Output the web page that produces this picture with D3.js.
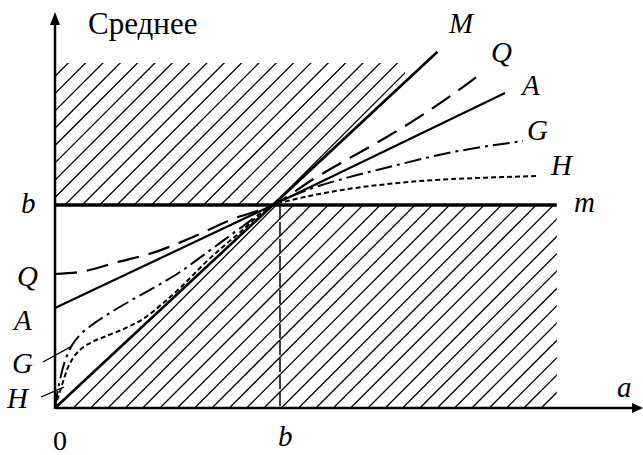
<!DOCTYPE html>
<html>
<head>
<meta charset="utf-8">
<script src="https://cdn.jsdelivr.net/npm/d3@7"></script>
<style>
  body { margin: 0; background: #fff; }
</style>
</head>
<body>
<div id="chart"></div>
<script>
// Values in units of b: [a, mean]
const diagLine = [[0, 0], [1.70, 1.755]];          // min for a<b, max for a>b
const levelLine = [[0, 1], [2.23, 1]];             // max for a<b, min for a>b
const qMean = [[0, 0.660], [0.111, 0.670], [0.280, 0.719], [0.444, 0.768], [0.609, 0.840],
  [0.787, 0.930], [0.969, 1.0], [1.156, 1.133], [1.311, 1.232], [1.467, 1.330],
  [1.613, 1.429], [1.764, 1.542], [1.902, 1.655]];
const aMean = [[0, 0.493], [0.969, 1.0], [2.0, 1.552]];
const gMean = [[0, 0], [0.009, 0.064], [0.027, 0.163], [0.049, 0.246], [0.076, 0.310],
  [0.111, 0.360], [0.164, 0.409], [0.244, 0.468], [0.333, 0.527], [0.444, 0.596],
  [0.556, 0.670], [0.667, 0.759], [0.822, 0.885], [0.969, 1.0], [1.124, 1.075],
  [1.30, 1.135], [1.467, 1.182], [1.747, 1.256], [2.08, 1.315]];
const hMean = [[0, 0], [0.013, 0.049], [0.031, 0.113], [0.053, 0.187], [0.080, 0.246],
  [0.111, 0.286], [0.156, 0.320], [0.222, 0.352], [0.311, 0.392], [0.400, 0.445],
  [0.489, 0.525], [0.578, 0.615], [0.667, 0.715], [0.822, 0.865], [0.969, 1.0],
  [1.053, 1.025], [1.276, 1.074], [1.569, 1.113], [2.0, 1.138], [2.147, 1.143]];
const bTick = 1;
const topLimit = 1.70;
const upperRightA = 1.556;
const lowerRightA = 2.23;

const width = 643, height = 455;
const serif = "'Liberation Serif', 'DejaVu Serif', 'Times New Roman', serif";

const svg = d3.select("#chart")
  .append("svg")
  .attr("width", width)
  .attr("height", height);

// Scales (a in units of b)
const x = d3.scaleLinear().domain([0, 1]).range([55, 280]);
const y = d3.scaleLinear().domain([0, 1]).range([408, 205]);

const cross = aMean[1];
const diagAt = a => diagLine[1][1] / diagLine[1][0] * a;

// Hatched regions
const upperRegion = [[0, 1], [0, topLimit], [upperRightA, topLimit],
  [upperRightA, diagAt(upperRightA)], [cross[0], cross[1]]];
const lowerRegion = [[0, 0], [cross[0], cross[1]], [lowerRightA, 1], [lowerRightA, 0]];

const defs = svg.append("defs");

function hatch(region, id, phase) {
  defs.append("clipPath").attr("id", id)
    .append("polygon")
    .attr("points", region.map(d => [x(d[0]), y(d[1])].join(",")).join(" "));
  const g = svg.append("g").attr("clip-path", `url(#${id})`);
  const step = 17.33;
  for (let k = -30; k < 40; k++) {
    const x0 = phase + k * step;
    g.append("line")
      .attr("x1", x0).attr("y1", y(0))
      .attr("x2", x0 + 420).attr("y2", y(0) - 420)
      .attr("stroke", "#000")
      .attr("stroke-width", 1.3);
  }
}
hatch(upperRegion, "upperClip", 0.5);
hatch(lowerRegion, "lowerClip", 4);

// Dashed vertical at a = b
svg.append("line")
  .attr("x1", x(bTick)).attr("x2", x(bTick))
  .attr("y1", y(1)).attr("y2", y(0))
  .attr("stroke", "#000")
  .attr("stroke-width", 1.5)
  .attr("stroke-dasharray", "14,3");

const line = d3.line()
  .x(d => x(d[0]))
  .y(d => y(d[1]))
  .curve(d3.curveMonotoneX);

function drawCurve(data, w, dash) {
  svg.append("path")
    .datum(data)
    .attr("d", line)
    .attr("fill", "none")
    .attr("stroke", "#000")
    .attr("stroke-width", w)
    .attr("stroke-dasharray", dash || null);
}

drawCurve(hMean, 2, "5,3");
drawCurve(gMean, 2, "17,5,3,5");
drawCurve(aMean, 2.2);
drawCurve(qMean, 2.2, "22,10");
drawCurve(diagLine, 2.6);
drawCurve(levelLine, 3.6);

// Axes with arrows
svg.append("line")
  .attr("x1", x(0)).attr("y1", y(0))
  .attr("x2", 634).attr("y2", y(0))
  .attr("stroke", "#000").attr("stroke-width", 2.5);
svg.append("path")
  .attr("d", `M643,${y(0)} L632,${y(0) - 5} L632,${y(0) + 5} Z`)
  .attr("fill", "#000");

svg.append("line")
  .attr("x1", x(0)).attr("y1", y(0) + 1)
  .attr("x2", x(0)).attr("y2", 22)
  .attr("stroke", "#000").attr("stroke-width", 2.5);
svg.append("path")
  .attr("d", `M${x(0)},12 L${x(0) - 5},25 L${x(0) + 5},25 Z`)
  .attr("fill", "#000");

// Leader lines for G and H near origin
svg.append("line")
  .attr("x1", 43).attr("y1", 362)
  .attr("x2", x(gMean[4][0]) - 2).attr("y2", y(gMean[4][1]) + 2)
  .attr("stroke", "#000").attr("stroke-width", 1.3);
svg.append("line")
  .attr("x1", 41).attr("y1", 397)
  .attr("x2", x(hMean[2][0]) + 2).attr("y2", y(hMean[2][1]) + 2)
  .attr("stroke", "#000").attr("stroke-width", 1.3);

// Text
svg.append("text")
  .attr("x", 88).attr("y", 34)
  .attr("font-family", serif)
  .style("font-size", "31px")
  .text("Среднее");

const italicLabels = [
  { t: "M", x: 449, y: 33 },
  { t: "Q", x: 491, y: 62 },
  { t: "A", x: 522, y: 95 },
  { t: "G", x: 527, y: 140 },
  { t: "H", x: 551, y: 175 },
  { t: "m", x: 574, y: 212 },
  { t: "b", x: 21, y: 213 },
  { t: "Q", x: 17, y: 286 },
  { t: "A", x: 14, y: 330 },
  { t: "G", x: 12, y: 373 },
  { t: "H", x: 7, y: 408 },
  { t: "a", x: 617, y: 397 },
  { t: "b", x: 278, y: 446 }
];
italicLabels.forEach(d => {
  svg.append("text")
    .attr("x", d.x).attr("y", d.y)
    .attr("font-family", serif)
    .style("font-size", "29px")
    .style("font-style", "italic")
    .text(d.t);
});

svg.append("text")
  .attr("x", x(0) + 5).attr("y", 450)
  .attr("text-anchor", "middle")
  .attr("font-family", serif)
  .style("font-size", "28px")
  .text("0");
</script>
</body>
</html>
